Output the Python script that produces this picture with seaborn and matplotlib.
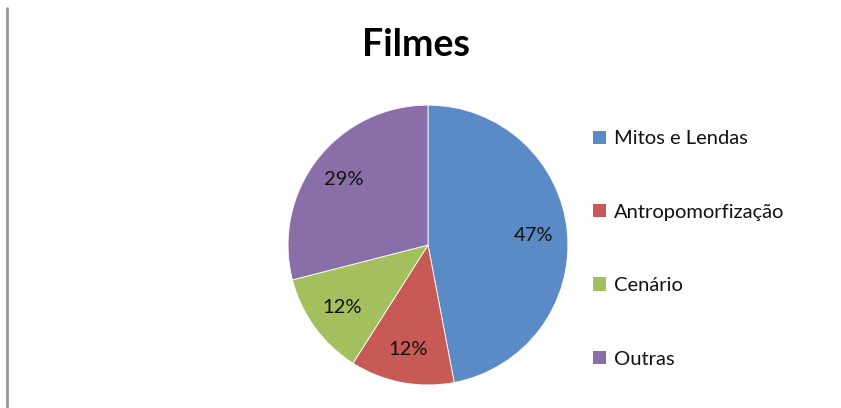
import matplotlib
matplotlib.use("Agg")
import matplotlib.pyplot as plt
import seaborn as sns
from matplotlib.lines import Line2D
from matplotlib.patches import Patch

# Data
categorias = ["Mitos e Lendas", "Antropomorfização", "Cenário", "Outras"]
percentuais = [47, 12, 12, 29]
cores = ["#5B8BC6", "#C85A55", "#A3BF5E", "#8A6EA8"]

sns.set_theme(style="white")
plt.rcParams['font.family'] = ['Lato', 'DejaVu Sans']
plt.rcParams['text.color'] = 'black'

fig = plt.figure(figsize=(8.41, 4.08), dpi=100)
ax = fig.add_axes([0.3424, 0.0564, 0.333, 0.686])

wedges, texts, autotexts = ax.pie(
    percentuais, colors=sns.color_palette(cores), startangle=90, counterclock=False,
    autopct='%1.0f%%', pctdistance=0.76,
    wedgeprops=dict(edgecolor='white', linewidth=0.6),
    textprops=dict(fontsize=14.5, color='#111111'))
ax.set_xlim(-1, 1)
ax.set_ylim(-1, 1)
ax.set_aspect('equal')

fig.text(0.495, 0.89, "Filmes", ha='center', va='center', fontsize=27,
         fontweight='bold', color='black')

handles = [Patch(facecolor=c, edgecolor='none') for c in cores]
fig.legend(handles, categorias, loc='upper left', bbox_to_anchor=(0.695, 0.70),
           frameon=False, fontsize=14.5, labelspacing=2.8, handlelength=0.65,
           handleheight=0.65, handletextpad=0.4, borderaxespad=0,
           labelcolor='#111111')

# left border line
fig.add_artist(Line2D([7 / 841, 7 / 841], [0, 1 - 8 / 408], color='#999999', linewidth=2))

fig.savefig("out.png", dpi=100)
